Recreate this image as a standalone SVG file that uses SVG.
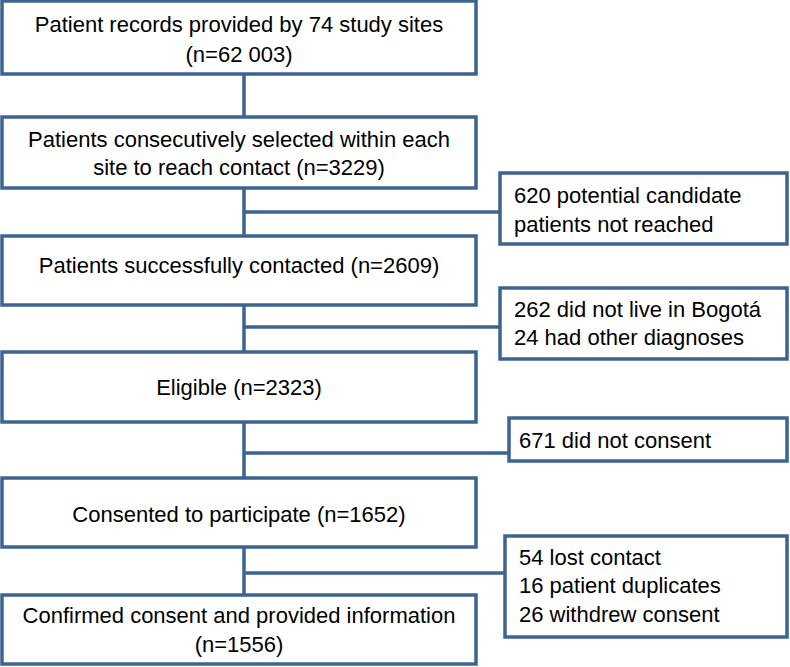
<svg xmlns="http://www.w3.org/2000/svg" width="790" height="667" viewBox="0 0 790 667">
<style>
.box{fill:#fff;stroke:#3d6491;stroke-width:3.5}
.ln{stroke:#3d6491;stroke-width:3.5;fill:none}
text{font-family:"Liberation Sans",Arial,sans-serif;font-size:22px;fill:#000}
.c{text-anchor:middle}
</style>
<rect width="790" height="667" fill="#fff"/>
<g id="connectors">
<line class="ln" x1="244" y1="74" x2="244" y2="117"/>
<line class="ln" x1="244" y1="188" x2="244" y2="236"/>
<line class="ln" x1="244" y1="305" x2="244" y2="352"/>
<line class="ln" x1="244" y1="422" x2="244" y2="478"/>
<line class="ln" x1="244" y1="547" x2="244" y2="595"/>
<line class="ln" x1="244" y1="212" x2="500" y2="212"/>
<line class="ln" x1="244" y1="327" x2="500" y2="327"/>
<line class="ln" x1="244" y1="453" x2="509" y2="453"/>
<line class="ln" x1="244" y1="573" x2="505" y2="573"/>
</g>
<g id="n1"><rect class="box" x="2" y="1" width="474" height="73"/>
<text class="c" x="239" y="32">Patient records provided by 74 study sites</text>
<text class="c" x="239" y="62">(n=62 003)</text></g>
<g id="n2"><rect class="box" x="2" y="117" width="474" height="71"/>
<text class="c" x="239" y="147">Patients consecutively selected within each</text>
<text class="c" x="239" y="175">site to reach contact (n=3229)</text></g>
<g id="n3"><rect class="box" x="2" y="236" width="474" height="69"/>
<text class="c" x="239" y="273">Patients successfully contacted (n=2609)</text></g>
<g id="n4"><rect class="box" x="2" y="352" width="474" height="70"/>
<text class="c" x="239" y="395">Eligible (n=2323)</text></g>
<g id="n5"><rect class="box" x="2" y="478" width="474" height="69"/>
<text class="c" x="239" y="522">Consented to participate (n=1652)</text></g>
<g id="n6"><rect class="box" x="2" y="595" width="474" height="69"/>
<text class="c" x="239" y="623">Confirmed consent and provided information</text>
<text class="c" x="239" y="652">(n=1556)</text></g>
<g id="s1"><rect class="box" x="500" y="173" width="287" height="71"/>
<text x="514" y="203">620 potential candidate</text>
<text x="514" y="232">patients not reached</text></g>
<g id="s2"><rect class="box" x="500" y="288" width="287" height="71"/>
<text x="514" y="317">262 did not live in Bogotá</text>
<text x="514" y="345">24 had other diagnoses</text></g>
<g id="s3"><rect class="box" x="509" y="418" width="278" height="43"/>
<text x="519" y="448">671 did not consent</text></g>
<g id="s4"><rect class="box" x="505" y="536" width="282" height="101"/>
<text x="519" y="565">54 lost contact</text>
<text x="519" y="593">16 patient duplicates</text>
<text x="519" y="622">26 withdrew consent</text></g>
</svg>
